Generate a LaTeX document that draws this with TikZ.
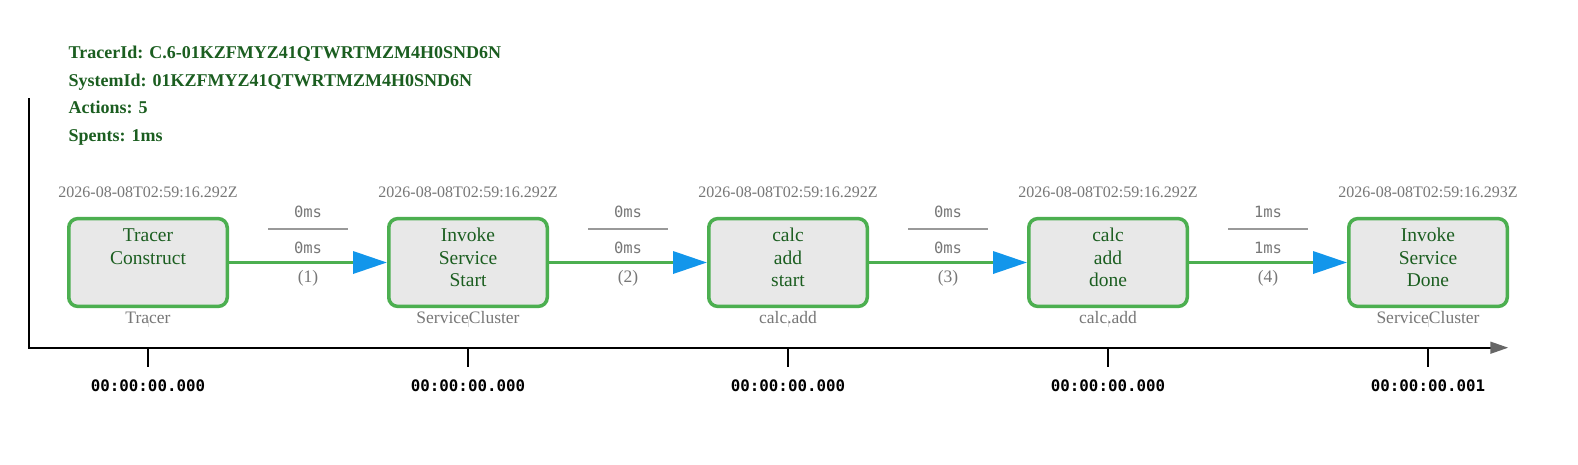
\documentclass[tikz,border=0pt]{standalone}
\usepackage{fontspec}
\setmainfont{Liberation Serif}
\setmonofont{DejaVu Sans Mono}
\usetikzlibrary{arrows.meta,calc}

% colours of the trace view
\definecolor{hdrgreen}{RGB}{27,94,32}
\definecolor{actgreen}{RGB}{76,175,80}
\definecolor{boxgray}{RGB}{232,232,232}
\definecolor{stampgray}{RGB}{119,119,119}
\definecolor{rulegray}{RGB}{153,153,153}
\definecolor{arrowblue}{RGB}{18,150,235}
\definecolor{axisgray}{RGB}{102,102,102}

\tikzset{
  hdr/.style={anchor=base west, inner sep=0pt, text=hdrgreen, font=\fontsize{18}{21}\selectfont\bfseries},
  actbox/.style={draw=actgreen, line width=3.5pt, fill=boxgray, rounded corners=9pt,
    minimum width=158.5pt, minimum height=87.8pt, inner xsep=0pt, inner ysep=7.5pt,
    text=hdrgreen, font=\fontsize{19.5}{22.3}\selectfont},
  stamp/.style={inner sep=0pt, text=stampgray, font=\fontsize{16}{19}\selectfont},
  owner/.style={inner sep=0pt, text=stampgray, font=\fontsize{17.5}{20}\selectfont},
  faint/.style={draw=black!15, line width=0.8pt},
  flow/.style={draw=actgreen, line width=3.5pt, -{Triangle[length=34pt,width=22pt,color=arrowblue]}},
  dur/.style={inner sep=0pt, text=stampgray, font=\fontsize{15.5}{18}\selectfont\ttfamily},
  durrule/.style={draw=rulegray, line width=1.5pt},
  seqno/.style={inner sep=0pt, text=stampgray, font=\fontsize{17.5}{20}\selectfont},
  axisline/.style={draw=black, line width=2.4pt, -{Triangle[length=18pt,width=11.7pt,color=axisgray]}},
  tick/.style={draw=black, line width=2.4pt},
  ticklbl/.style={inner sep=0pt, font=\fontsize{15.8}{18}\selectfont\ttfamily\bfseries}
}
\newcommand{\boxlines}[1]{\parbox[t][72.8pt][t]{150pt}{\centering\strut #1}}

\begin{document}
\begin{tikzpicture}[x=1pt,y=-1pt]
    \fill[white] (0,0) rectangle (1578,464);
    \useasboundingbox (0,0) rectangle (1578,464);

    % Header
    \foreach \k/\line in {0/{TracerId: C.6-01KZFMYZ41QTWRTMZM4H0SND6N},
                          1/{SystemId: 01KZFMYZ41QTWRTMZM4H0SND6N},
                          2/{Actions: 5},
                          3/{Spents: 1ms}}
        \node[hdr] (h\k) at (68.5,{58.3+27.8*\k}) {\line};

    % Time axis
    \coordinate (o) at (29,347.7);
    \coordinate (otop) at (29,98.3);
    \coordinate (oend) at (1508.3,347.7);
    \draw[axisline] (otop) -- (o) -- (oend);

    % Actions
    \foreach \i/\ts/\txt/\lbl/\tm in {
        1/2026-08-08T02:59:16.292Z/{Tracer\\Construct}/Tracer/00:00:00.000,
        2/2026-08-08T02:59:16.292Z/{Invoke\\Service\\Start}/ServiceCluster/00:00:00.000,
        3/2026-08-08T02:59:16.292Z/{calc\\add\\start}/calc.add/00:00:00.000,
        4/2026-08-08T02:59:16.292Z/{calc\\add\\done}/calc.add/00:00:00.000,
        5/2026-08-08T02:59:16.293Z/{Invoke\\Service\\Done}/ServiceCluster/00:00:00.001} {
        \node[actbox] (a\i) at ({148+320*(\i-1)},262.5) {\boxlines{\txt}};
        \node[stamp] (s\i) at ([yshift=69.8pt]a\i.center) {\ts};
        \draw[faint] ([yshift=-57.5pt]a\i.center) -- ([yshift=-64.5pt]a\i.center);
        \node[owner] (w\i) at ([yshift=-55.5pt]a\i.center) {\lbl};
        \draw[tick] (a\i |- o) -- ++(0,19.3);
        \path (a\i |- o) ++(0,38.3) node[ticklbl] (t\i) {\tm};
    }

    % Steps between actions
    \foreach \i/\j/\d in {1/2/0ms, 2/3/0ms, 3/4/0ms, 4/5/1ms} {
        \draw[flow] (a\i.east) -- (a\j.west);
        \coordinate (m\i) at ($(a\i.east)!0.5!(a\j.west)$);
        \node[dur] (du\i) at ([yshift=50.8pt]m\i) {\d};
        \draw[durrule] ([xshift=-40pt,yshift=33.5pt]m\i) -- ([xshift=40pt,yshift=33.5pt]m\i);
        \node[dur] (dl\i) at ([yshift=14.8pt]m\i) {\d};
        \node[seqno] (n\i) at ([yshift=-15.5pt]m\i) {(\i)};
    }
\end{tikzpicture}
\end{document}
